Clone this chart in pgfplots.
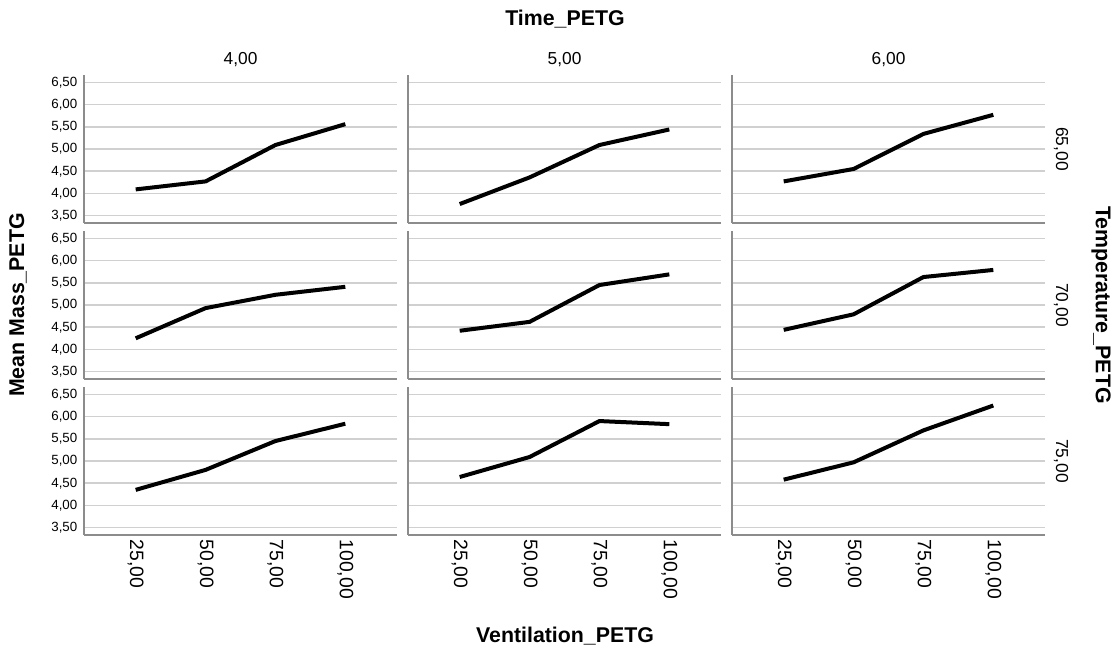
\documentclass[border=0pt]{standalone}
\usepackage{fontspec}
\setmainfont{Liberation Sans}
\usepackage{pgfplots}
\pgfplotsset{compat=1.18}
\usepackage{pgfplotstable}

\definecolor{gridgray}{RGB}{208,208,208}
\definecolor{axisgray}{RGB}{140,140,140}

% mean mass per ventilation; columns rXcY = temperature row X, time column Y
\pgfplotstableread{
vent r1c1 r1c2 r1c3 r2c1 r2c2 r2c3 r3c1 r3c2 r3c3
25   4.09 3.76 4.27 4.25 4.42 4.44 4.35 4.64 4.58
50   4.27 4.36 4.55 4.93 4.62 4.79 4.80 5.09 4.97
75   5.09 5.09 5.34 5.23 5.45 5.63 5.45 5.90 5.69
100  5.56 5.44 5.77 5.41 5.69 5.79 5.84 5.83 6.25
}\massdata

\newcommand\ytickfont{\fontsize{10}{12}\selectfont}
\newcommand\xtickfont{\fontsize{14.5}{17}\selectfont}
\newcommand\catfont{\fontsize{13}{15}\selectfont}
\newcommand\titlefont{\fontsize{16}{19}\selectfont\bfseries}

\pgfplotsset{
  panel/.style={
    scale only axis, width=234.75pt, height=111pt,
    anchor=north west,
    xmin=6.5, xmax=118.5, ymin=3.333, ymax=6.667,
    xtick={25,50,75,100}, ytick={3.5,4,4.5,5,5.5,6,6.5},
    axis x line=bottom, axis y line=left,
    axis line style={-, draw=axisgray, line width=1.4pt},
    major tick length=0pt,
    ymajorgrids, grid style={gridgray, line width=1.1pt},
    xticklabels={}, yticklabels={},
    /pgf/number format/fixed,
    /pgf/number format/fixed zerofill,
    /pgf/number format/precision=2,
    /pgf/number format/use comma,
    /pgf/number format/assume math mode=true,
  },
  ylab/.style={
    yticklabel={\pgfmathprintnumber{\tick}},
    yticklabel style={font=\ytickfont, text=black, xshift=-1.5pt},
  },
  xlab/.style={
    xticklabel={\pgfmathprintnumber{\tick}},
    xticklabel style={font=\xtickfont, text=black, rotate=-90, anchor=west},
  },
  mass/.style={black, line width=3pt, no marks},
}

\begin{document}
\begin{tikzpicture}
\useasboundingbox (0,0) rectangle (839.25pt,-489.75pt);

% row 1: Temperature 65
\begin{axis}[panel, ylab, at={(63pt,-56.25pt)}]
\addplot[mass] table[x=vent, y=r1c1] {\massdata};
\end{axis}
\begin{axis}[panel, at={(306pt,-56.25pt)}]
\addplot[mass] table[x=vent, y=r1c2] {\massdata};
\end{axis}
\begin{axis}[panel, at={(549pt,-56.25pt)}]
\addplot[mass] table[x=vent, y=r1c3] {\massdata};
\end{axis}

% row 2: Temperature 70
\begin{axis}[panel, ylab, at={(63pt,-173.25pt)}]
\addplot[mass] table[x=vent, y=r2c1] {\massdata};
\end{axis}
\begin{axis}[panel, at={(306pt,-173.25pt)}]
\addplot[mass] table[x=vent, y=r2c2] {\massdata};
\end{axis}
\begin{axis}[panel, at={(549pt,-173.25pt)}]
\addplot[mass] table[x=vent, y=r2c3] {\massdata};
\end{axis}

% row 3: Temperature 75
\begin{axis}[panel, ylab, xlab, at={(63pt,-290.25pt)}]
\addplot[mass] table[x=vent, y=r3c1] {\massdata};
\end{axis}
\begin{axis}[panel, xlab, at={(306pt,-290.25pt)}]
\addplot[mass] table[x=vent, y=r3c2] {\massdata};
\end{axis}
\begin{axis}[panel, xlab, at={(549pt,-290.25pt)}]
\addplot[mass] table[x=vent, y=r3c3] {\massdata};
\end{axis}

% titles and facet labels
\node[font=\titlefont] at (423.75pt,-14.25pt) {Time\_PETG};
\node[font=\catfont] at (180.4pt,-45pt) {4,00};
\node[font=\catfont] at (423.4pt,-45pt) {5,00};
\node[font=\catfont] at (666.4pt,-45pt) {6,00};
\node[font=\catfont, rotate=-90] at (795.75pt,-111.75pt) {65,00};
\node[font=\catfont, rotate=-90] at (795.75pt,-228.75pt) {70,00};
\node[font=\catfont, rotate=-90] at (795.75pt,-345.75pt) {75,00};
\node[font=\titlefont, rotate=-90] at (825.75pt,-228.75pt) {Temperature\_PETG};
\node[font=\titlefont, rotate=90] at (13.5pt,-228.75pt) {Mean Mass\_PETG};
\node[font=\titlefont] at (423.75pt,-477pt) {Ventilation\_PETG};
\end{tikzpicture}
\end{document}
